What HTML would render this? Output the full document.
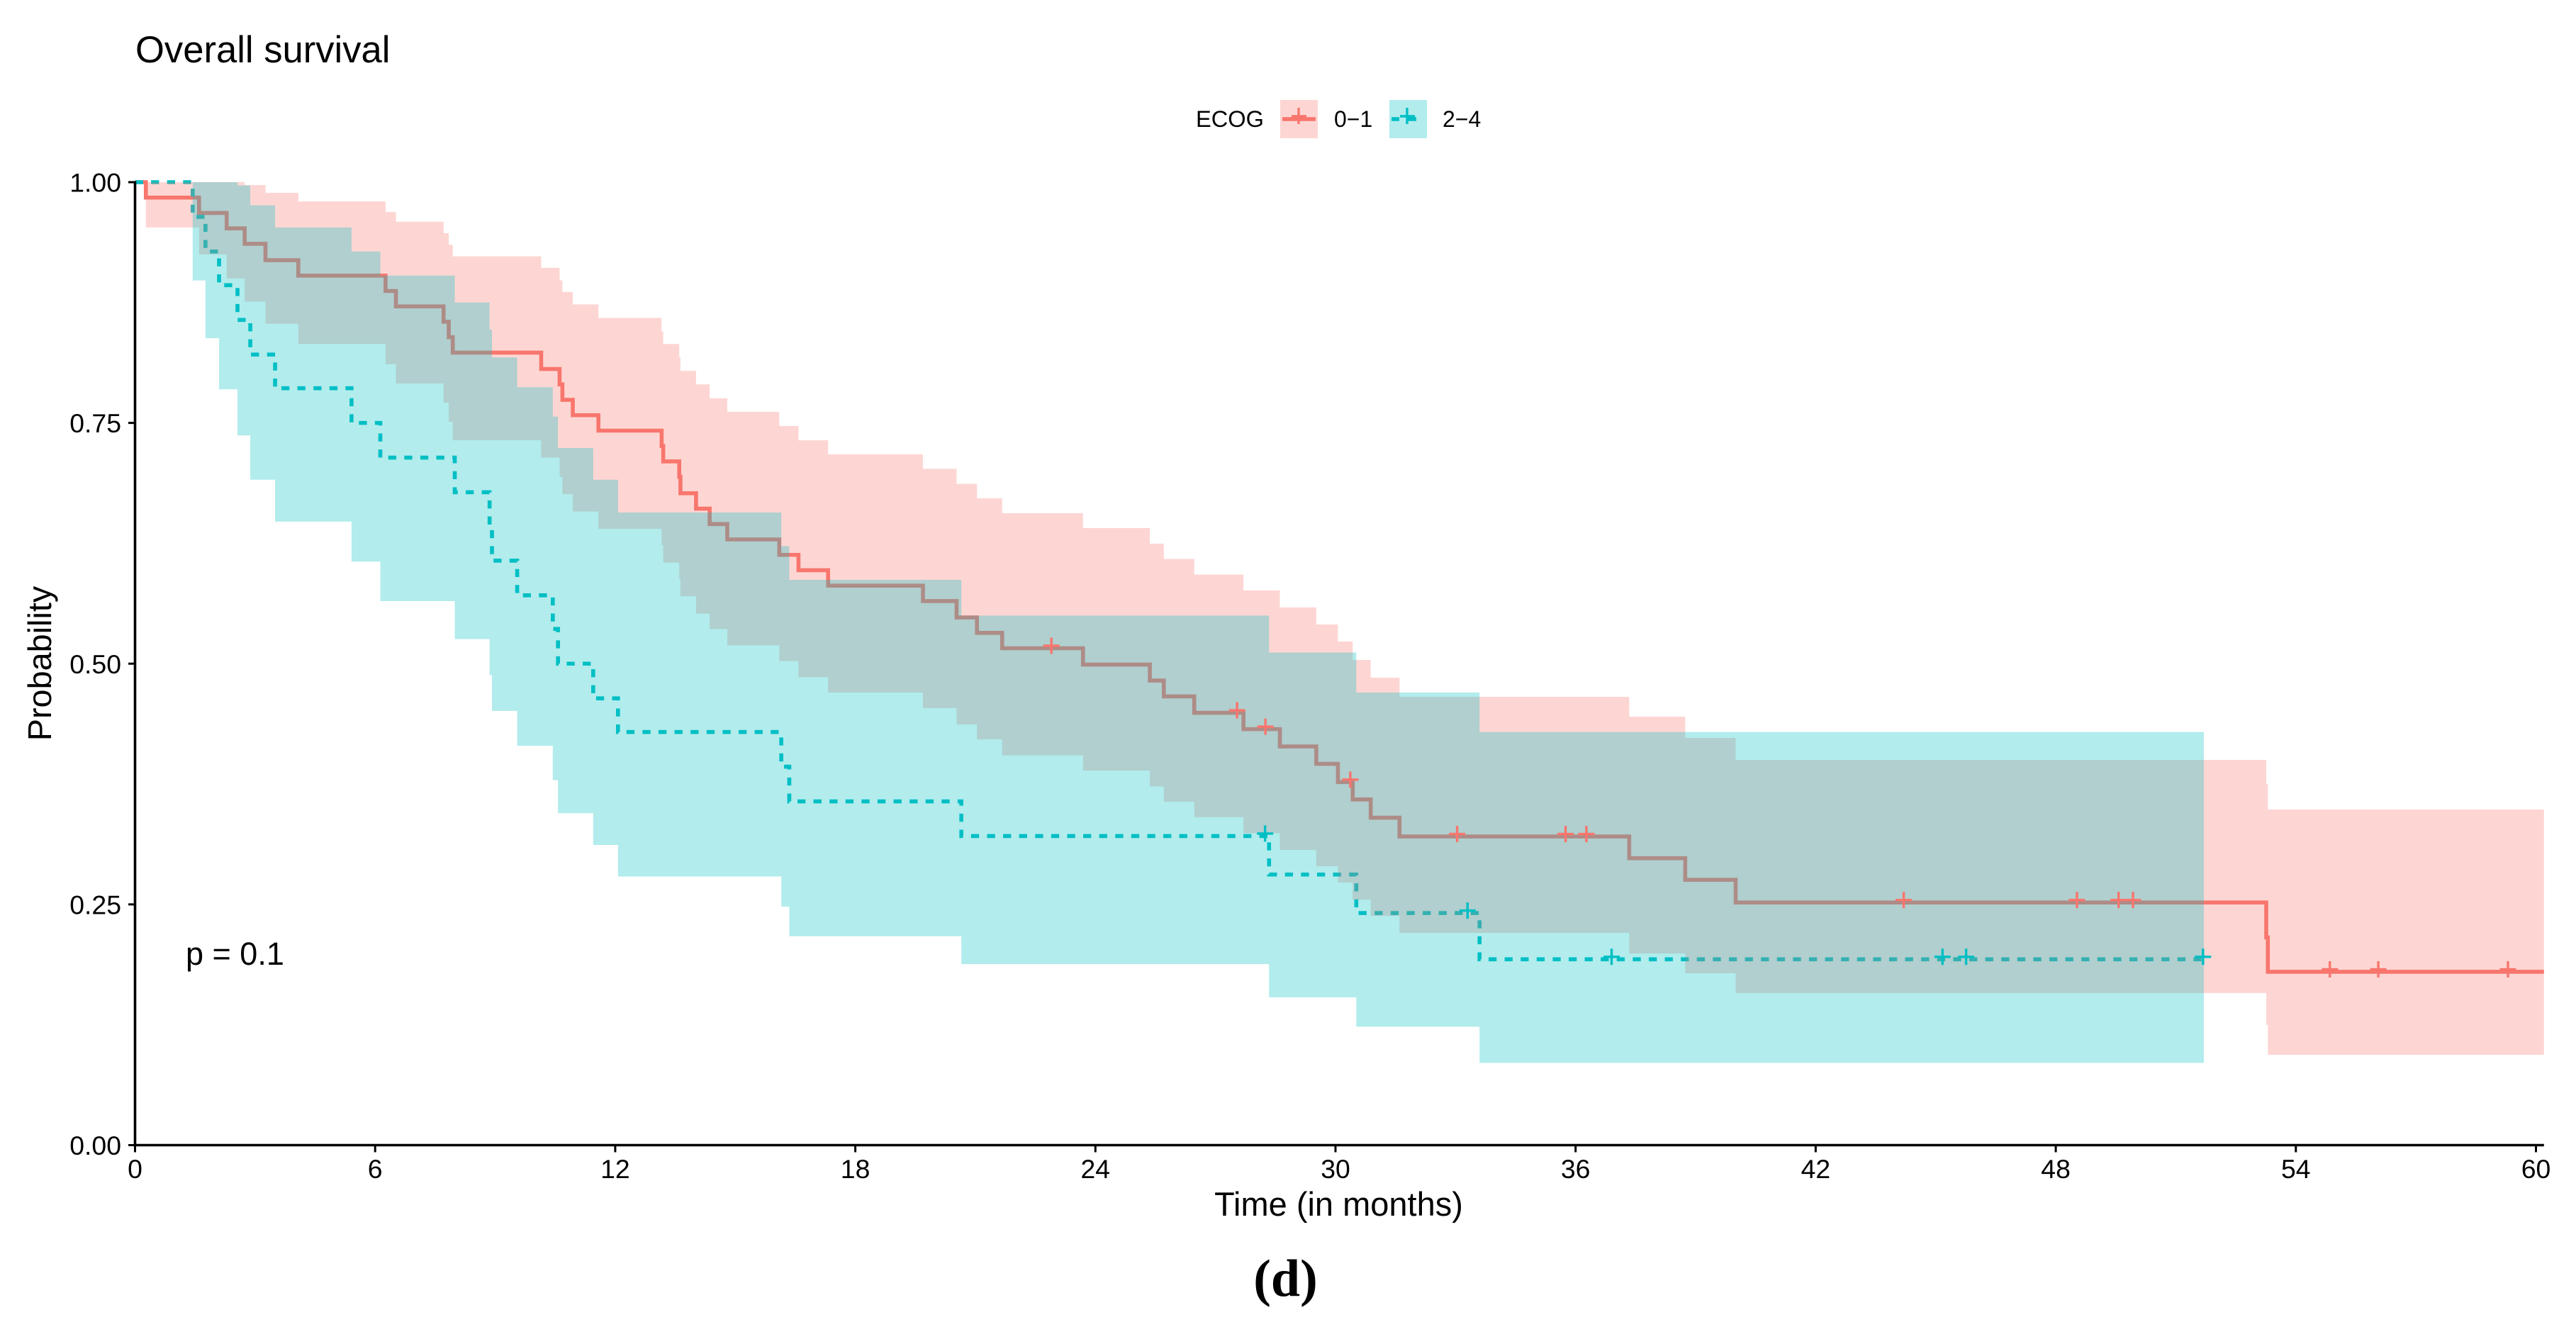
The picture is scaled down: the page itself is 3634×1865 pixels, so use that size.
<!DOCTYPE html>
<html lang="en">
<head>
<meta charset="utf-8">
<title>Overall survival</title>
<style>
html,body{margin:0;padding:0;background:#fff;width:3634px;height:1865px;overflow:hidden}
svg{display:block}
text{font-family:"Liberation Sans",Arial,sans-serif;fill:#000}
</style>
</head>
<body>
<svg id="chart" xmlns="http://www.w3.org/2000/svg" width="3634" height="1865" viewBox="0 0 3634 1865">
  <rect x="0" y="0" width="3634" height="1865" fill="#fff"/>
  <g id="lines"></g>
  <g id="ribbons"></g>
  <g id="censors"></g>
  <g id="axes"></g>

  <text x="191" y="88" font-size="52.6">Overall survival</text>
  <text x="1888.5" y="1715" font-size="47" text-anchor="middle">Time (in months)</text>
  <text transform="translate(72 936) rotate(-90)" font-size="46.8" text-anchor="middle">Probability</text>
  <text x="262" y="1361" font-size="45">p = 0.1</text>
  <text x="1813.5" y="1828" font-size="74" font-weight="bold" text-anchor="middle" style="font-family:'Liberation Serif','Times New Roman',serif">(d)</text>

  <g>
    <text x="1687" y="179" font-size="32.6">ECOG</text>
    <g>
      <rect x="1806" y="141" width="53" height="54" fill="#F8766D" fill-opacity="0.3"/>
      <line x1="1809" y1="168" x2="1856" y2="168" stroke="#F8766D" stroke-width="5.5"/>
      <path d="M1832 152V175M1822 164H1843" stroke="#F8766D" stroke-width="3.4" fill="none"/>
      <text x="1882" y="179" font-size="32">0−1</text>
    </g>
    <g>
      <rect x="1960" y="141" width="53" height="54" fill="#00BFC4" fill-opacity="0.3"/>
      <path d="M1963 168H1974M1985 168H1998" stroke="#00BFC4" stroke-width="5.5" fill="none"/>
      <path d="M1985 152V175M1975 164H1996" stroke="#00BFC4" stroke-width="3.4" fill="none"/>
      <text x="2035" y="179" font-size="32">2−4</text>
    </g>
  </g>
</svg>

<script>
// Tick labels
const xTicks = [0, 6, 12, 18, 24, 30, 36, 42, 48, 54, 60];
const yTicks = [0, 0.25, 0.5, 0.75, 1];
const yTickLabels = ['0.00', '0.25', '0.50', '0.75', '1.00'];

// ECOG 0-1 series
const redTimes = [0,.27,1.6,2.29,2.74,3.26,4.08,6.26,6.52,7.71,7.84,7.94,10.15,10.61,10.68,10.94,11.58,13.16,13.2,13.6,13.63,14.02,14.36,14.8,16.1,16.58,17.32,19.69,20.53,21.04,21.67,23.69,25.36,25.71,26.47,27.7,28.61,29.52,30.06,30.43,30.88,31.6,37.34,38.74,40,53.26,53.3];
const redSurvival = [1,.984,.968,.952,.936,.919,.903,.887,.871,.855,.839,.823,.806,.79,.774,.758,.742,.726,.71,.694,.677,.661,.645,.629,.613,.597,.581,.565,.548,.532,.516,.499,.4825,.466,.449,.432,.414,.396,.377,.359,.34,.3205,.298,.2755,.252,.2157,.18];
const redUpper = [1,1,1,1,.997,.989,.98,.969,.959,.947,.935,.923,.911,.898,.886,.873,.859,.845,.832,.818,.804,.79,.7755,.7615,.7468,.732,.7173,.7023,.6868,.6717,.6563,.6408,.6246,.6088,.5926,.576,.5584,.5407,.523,.5039,.4855,.4656,.445,.4229,.4,.3753,.3485];
const redLower = [1,.953,.925,.9,.876,.853,.832,.811,.791,.771,.751,.732,.714,.694,.676,.658,.64,.623,.605,.588,.57,.552,.536,.519,.5027,.486,.47,.4538,.437,.4214,.4048,.389,.3725,.3566,.3405,.324,.3066,.2897,.2727,.255,.238,.2205,.199,.1785,.158,.125,.0938];
const redEnd = 60.2;
const redCensorTimes = [22.9,27.54,28.25,30.37,33.04,35.75,36.27,44.2,48.53,49.57,49.93,54.85,56.06,59.3];

// ECOG 2-4 series
const tealTimes = [0,1.44,1.76,2.1,2.56,2.88,3.5,5.41,6.13,7.99,8.86,8.92,9.55,10.44,10.57,11.45,12.07,16.15,16.35,20.65,28.34,30.52,33.6];
const tealSurvival = [1,.964,.928,.893,.857,.821,.786,.75,.714,.678,.643,.607,.571,.536,.5,.464,.429,.393,.357,.321,.281,.241,.193];
const tealUpper = [1,1,1,1,.9966,.976,.953,.928,.903,.875,.847,.818,.787,.7566,.724,.691,.657,.622,.587,.55,.5116,.47,.429];
const tealLower = [1,.898,.838,.785,.737,.691,.6475,.606,.565,.5255,.488,.451,.4147,.379,.3448,.3117,.279,.2477,.217,.188,.1535,.123,.0854];
const tealEnd = 51.7;
const tealCensorTimes = [28.24,33.3,36.9,45.17,45.76,51.68];

const RED = '#F8766D';
const TEAL = '#00BFC4';
const NS = 'http://www.w3.org/2000/svg';

function xScale(t) { return 190.5 + 56.45 * t; }
function yScale(s) { return 1615.5 - 1358.5 * s; }

function make(parent, tag, attrs) {
  const el = document.createElementNS(NS, tag);
  for (const k in attrs) el.setAttribute(k, attrs[k]);
  parent.appendChild(el);
  return el;
}

function stepForward(times, vals, end, first) {
  let d = (first ? 'M' : 'L') + xScale(times[0]).toFixed(2) + ' ' + yScale(vals[0]).toFixed(2);
  for (let i = 1; i < times.length; i++) {
    d += 'H' + xScale(times[i]).toFixed(2) + 'V' + yScale(vals[i]).toFixed(2);
  }
  return d + 'H' + xScale(end).toFixed(2);
}

function stepBackward(times, vals, end) {
  const n = times.length;
  let d = 'V' + yScale(vals[n - 1]).toFixed(2);
  for (let i = n - 1; i >= 1; i--) {
    d += 'H' + xScale(times[i]).toFixed(2) + 'V' + yScale(vals[i - 1]).toFixed(2);
  }
  return d + 'H' + xScale(times[0]).toFixed(2) + 'Z';
}

function survivalAt(times, vals, t) {
  let s = vals[0];
  for (let i = 0; i < times.length; i++) {
    if (times[i] <= t) s = vals[i];
  }
  return s;
}

const linesG = document.getElementById('lines');
const ribbonsG = document.getElementById('ribbons');
const censorsG = document.getElementById('censors');
const axesG = document.getElementById('axes');

// Lines are drawn beneath the translucent ribbons
const redLine = make(linesG, 'path', {d: stepForward(redTimes, redSurvival, redEnd, true), fill: 'none', stroke: RED, 'stroke-width': 5.6, 'stroke-linejoin': 'miter'});



const tealLine = make(linesG, 'path', {d: stepForward(tealTimes, tealSurvival, tealEnd, true), fill: 'none', stroke: TEAL, 'stroke-width': 5.6, 'stroke-dasharray': '11.3 11.3'});



// Ribbons
const redBand = make(ribbonsG, 'path', {d: stepForward(redTimes, redUpper, redEnd, true) + stepBackward(redTimes, redLower, redEnd), fill: RED, 'fill-opacity': 0.3});



const tealBand = make(ribbonsG, 'path', {d: stepForward(tealTimes, tealUpper, tealEnd, true) + stepBackward(tealTimes, tealLower, tealEnd), fill: TEAL, 'fill-opacity': 0.3});



// Censor marks
function drawCensor(t, s, color) {
  const cx = xScale(t);
  const cy = yScale(s) - 3.5;
  return make(censorsG, 'path', {d: 'M' + cx.toFixed(2) + ' ' + (cy - 11.5).toFixed(2) + 'V' + (cy + 11.5).toFixed(2) + 'M' + (cx - 11.5).toFixed(2) + ' ' + cy.toFixed(2) + 'H' + (cx + 11.5).toFixed(2), fill: 'none', stroke: color, 'stroke-width': 3.4});
}
redCensorTimes.forEach(function (t) {
  const el = drawCensor(t, survivalAt(redTimes, redSurvival, t), RED);
  
  
});
tealCensorTimes.forEach(function (t) {
  const el = drawCensor(t, survivalAt(tealTimes, tealSurvival, t), TEAL);
  
  
});

// Axes
const yAxisLine = make(axesG, 'line', {x1: 190.5, y1: yScale(1) - 1.5, x2: 190.5, y2: yScale(0) + 2, stroke: '#000', 'stroke-width': 3.6});



const xAxisLine = make(axesG, 'line', {x1: 188.7, y1: yScale(0), x2: xScale(60.2), y2: yScale(0), stroke: '#000', 'stroke-width': 3.6});



xTicks.forEach(function (v) {
  const tick = make(axesG, 'line', {x1: xScale(v), y1: yScale(0), x2: xScale(v), y2: yScale(0) + 10, stroke: '#000', 'stroke-width': 3});
  
  
  const label = make(axesG, 'text', {x: xScale(v), y: 1662, 'font-size': 37.4, 'text-anchor': 'middle'});
  label.textContent = String(v);
  
  
});

yTicks.forEach(function (v, i) {
  const tick = make(axesG, 'line', {x1: 181, y1: yScale(v), x2: 190.5, y2: yScale(v), stroke: '#000', 'stroke-width': 3});
  
  
  const label = make(axesG, 'text', {x: 171, y: yScale(v) + 13.5, 'font-size': 37.4, 'text-anchor': 'end'});
  label.textContent = yTickLabels[i];
  
  
});
</script>
</body>
</html>
